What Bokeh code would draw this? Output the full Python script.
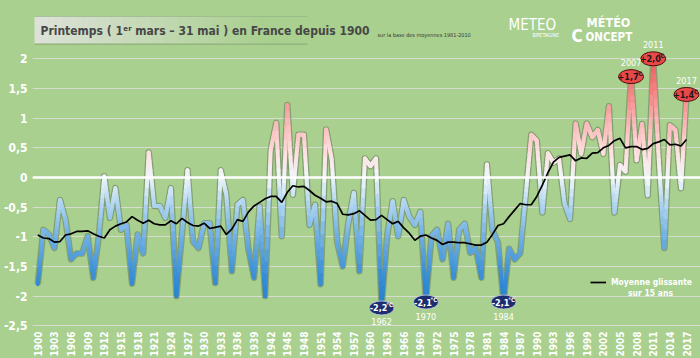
import numpy as np
from bokeh.plotting import figure
from bokeh.models import FixedTicker, Span, Label, BoxAnnotation, Legend, LegendItem, ColumnDataSource
from bokeh.embed import file_html
from bokeh.resources import INLINE
from bokeh.core.properties import value

# ---------------- data ----------------
years = list(range(1900, 2018))
anomaly = [
    -1.80, -0.88, -0.96, -1.19, -0.38, -0.71, -1.38, -1.28, -1.28, -0.99,
    -1.69, -1.00, 0.02, -0.68, -0.18, -0.88, -0.80, -1.79, -0.96, -1.28,
    0.42, -0.48, -0.48, -0.68, -0.18, -2.00, -0.95, 0.12, -1.08, -1.19,
    -0.77, -0.77, -1.78, 0.12, -0.29, -1.58, -0.46, -0.38, -1.22, -1.69,
    -0.49, -2.00, 0.46, 0.92, -0.99, 1.22, -0.29, 0.72, 0.72, -0.80,
    -0.46, -1.80, 0.81, 0.31, -1.09, -1.50, -0.77, -0.26, -1.58, 0.32,
    0.19, 0.32, -2.20, -0.99, -0.40, -0.99, -0.38, -0.66, -0.80, -0.58,
    -2.10, -0.99, -0.88, -1.38, -0.78, -1.69, -0.88, -0.78, -1.27, -1.19,
    -1.69, 0.22, -0.88, -1.10, -2.10, -1.20, -1.38, -1.28, -0.30, 0.72,
    0.62, -0.59, 0.41, 0.25, 0.32, -0.44, -0.70, 0.91, 0.40, 0.91,
    0.68, 0.80, 0.40, 1.20, -0.59, 0.21, 0.10, 1.70, 0.29, 0.90,
    -0.30, 2.00, 0.30, -1.19, 0.88, 0.80, -0.18, 1.40,
]
moving_avg = [
    -0.97, -1.02, -1.03, -1.09, -1.08, -0.97, -0.95, -0.91, -0.91, -0.90,
    -0.95, -0.99, -1.02, -0.88, -0.82, -0.78, -0.75, -0.66, -0.72, -0.77,
    -0.72, -0.78, -0.80, -0.80, -0.73, -0.78, -0.69, -0.76, -0.81, -0.82,
    -0.77, -0.86, -0.84, -0.82, -0.96, -0.87, -0.71, -0.74, -0.58, -0.48,
    -0.42, -0.36, -0.32, -0.32, -0.42, -0.25, -0.14, -0.16, -0.15, -0.22,
    -0.30, -0.35, -0.41, -0.40, -0.44, -0.62, -0.63, -0.61, -0.56, -0.64,
    -0.72, -0.71, -0.64, -0.71, -0.78, -0.74, -0.85, -0.94, -1.06, -0.99,
    -0.97, -1.02, -1.06, -1.13, -1.09, -1.09, -1.10, -1.10, -1.12, -1.14,
    -1.14, -1.09, -0.96, -0.81, -0.78, -0.66, -0.55, -0.44, -0.46, -0.46,
    -0.32, -0.13, 0.08, 0.26, 0.34, 0.36, 0.38, 0.28, 0.33, 0.32,
    0.41, 0.42, 0.50, 0.54, 0.62, 0.66, 0.50, 0.52, 0.52, 0.47,
    0.49, 0.57, 0.60, 0.64, 0.55, 0.56, 0.53, 0.64,
]
assert len(anomaly) == len(years) == len(moving_avg)

x_tick_years = [1900, 1903, 1906, 1909, 1912, 1915, 1918, 1921, 1924, 1927,
                1930, 1933, 1936, 1939, 1942, 1945, 1948, 1951, 1954, 1957,
                1960, 1963, 1966, 1969, 1972, 1975, 1978, 1981, 1984, 1987,
                1990, 1993, 1996, 1999, 2002, 2005, 2008, 2011, 2014, 2017]
y_tick_values = [-2.5, -2.0, -1.5, -1.0, -0.5, 0.0, 0.5, 1.0, 1.5, 2.0]
y_tick_labels = ["-2,5", "-2", "-1,5", "-1", "-0,5", "0", "0,5", "1", "1,5", "2"]

warm_years = [2007, 2011, 2017]
warm_texts = ["+1,7", "+2,0", "+1,4"]
cold_years = [1962, 1970, 1984]
cold_texts = ["-2,2", "-2,1", "-2,1"]

title_text = "Printemps ( 1\u1d49\u02b3 mars \u2013 31 mai ) en France depuis 1900"
subtitle_text = "sur la base des moyennes 1981-2010"
legend_line1 = "Moyenne glissante"
legend_line2 = "sur 15 ans"

# ---------------- layout (page = figure coordinates, body margin removed) ----------------
BORDER_L = 30
FRAME_W, FRAME_H = 670, 327
X_START, X_END = 1899.044, 2019.884
Y_START, Y_END = -2.529, 2.983
BG = "#a9d08e"
FONT = "DejaVu Sans Condensed"

PX_X = (X_END - X_START) / FRAME_W   # data units per pixel
PX_Y = (Y_END - Y_START) / FRAME_H


def rx(ref_x):
    return X_START + (ref_x - BORDER_L) * PX_X


def ry(ref_y):
    return Y_END - ref_y * PX_Y


p = figure(frame_width=FRAME_W, frame_height=FRAME_H, output_backend="svg", toolbar_location=None,
           x_range=(X_START, X_END), y_range=(Y_START, Y_END),
           background_fill_color=BG, border_fill_color=BG, outline_line_color=None,
           min_border_left=BORDER_L, min_border_right=0, min_border_top=0,
           min_border_bottom=0)

# axes
p.yaxis.ticker = FixedTicker(ticks=y_tick_values)
p.yaxis.major_label_overrides = {float(v): s for v, s in zip(y_tick_values, y_tick_labels)}
p.xaxis.ticker = FixedTicker(ticks=x_tick_years)
p.xaxis.major_label_orientation = np.pi / 2
for ax in (p.xaxis, p.yaxis):
    ax.axis_line_color = None
    ax.major_tick_line_color = None
    ax.minor_tick_line_color = None
    ax.major_tick_out = 0
    ax.major_tick_in = 0
    ax.minor_tick_out = 0
    ax.minor_tick_in = 0
    ax.major_label_text_color = "white"
    ax.major_label_text_font = FONT
    ax.major_label_text_font_style = "bold"
p.yaxis.major_label_text_font_size = "12px"
p.yaxis.major_label_standoff = 5
p.xaxis.major_label_text_font_size = "10px"
p.xaxis.major_label_standoff = 4

p.xgrid.visible = False
p.ygrid.ticker = FixedTicker(ticks=y_tick_values)
p.ygrid.grid_line_color = "#d6dccf"
p.ygrid.grid_line_width = 1

p.add_layout(Span(location=0, dimension="width", line_color="white", line_width=2.5))

# ---------------- main line with vertical colour gradient ----------------
stops_v = [-2.3, -1.6, -1.0, -0.5, 0.0, 0.4, 0.9, 1.4, 2.1]
stops_c = [(28, 122, 205), (60, 145, 215), (112, 176, 228), (170, 210, 240),
           (240, 246, 250), (255, 225, 225), (250, 185, 185), (245, 135, 135),
           (238, 82, 82)]


def cmap(v):
    r = np.interp(v, stops_v, [c[0] for c in stops_c])
    g = np.interp(v, stops_v, [c[1] for c in stops_c])
    b = np.interp(v, stops_v, [c[2] for c in stops_c])
    return "#%02x%02x%02x" % (int(r), int(g), int(b))


xs = np.array(years, dtype=float)
ys = np.array(anomaly, dtype=float)
n_sub = 12
t0 = np.linspace(0, 1, n_sub + 1)[:-1]
t1 = np.linspace(0, 1, n_sub + 1)[1:]
dx = (xs[1:] - xs[:-1])[:, None]
dy = (ys[1:] - ys[:-1])[:, None]
sx0 = (xs[:-1, None] + dx * t0).ravel()
sx1 = (xs[:-1, None] + dx * t1).ravel()
sy0 = (ys[:-1, None] + dy * t0).ravel()
sy1 = (ys[:-1, None] + dy * t1).ravel()
seg_colors = [cmap(v) for v in (sy0 + sy1) / 2]

p.line(years, anomaly, line_color="#55654f", line_alpha=0.45, line_width=6.5, line_join="round")
p.segment(x0=sx0, y0=sy0, x1=sx1, y1=sy1, line_color=seg_colors, line_width=4, line_cap="round")

ma_r = p.line(years, moving_avg, line_color="black", line_width=1.7)

# ---------------- bubbles ----------------
warm_vals = [anomaly[y - years[0]] for y in warm_years]
cold_vals = [anomaly[y - years[0]] for y in cold_years]
bw, bh = 25 * PX_X, 14 * PX_Y

warm_src = ColumnDataSource(dict(
    x=warm_years, y=warm_vals, t=warm_texts, yr=[str(y) for y in warm_years],
    xt=[y - 3 * PX_X for y in warm_years], xc=[y + 8 * PX_X for y in warm_years],
    yc=[v + 3 * PX_Y for v in warm_vals], yy=[v + 14 * PX_Y for v in warm_vals]))
cold_src = ColumnDataSource(dict(
    x=cold_years, y=cold_vals, t=cold_texts, yr=[str(y) for y in cold_years],
    xt=[y - 3 * PX_X for y in cold_years], xc=[y + 8 * PX_X for y in cold_years],
    yc=[v + 3 * PX_Y for v in cold_vals], yy=[v - 14 * PX_Y for v in cold_vals]))

p.ellipse(x="x", y="y", width=bw, height=bh, source=warm_src,
          fill_color="#e94848", line_color="#4a1010", line_width=1)
p.ellipse(x="x", y="y", width=bw, height=bh, source=cold_src,
          fill_color="#1d2d6d", line_color="#c8d0f0", line_width=0.8)

for src, tc in ((warm_src, "#1a1a1a"), (cold_src, "white")):
    p.text(x="xt", y="y", text="t", source=src, text_color=tc, text_font=value(FONT),
           text_font_style="bold", text_font_size="9px", text_align="center",
           text_baseline="middle")
    p.text(x="xc", y="yc", text=value("\u00b0C"), source=src, text_color=tc,
           text_font=value(FONT), text_font_style="bold", text_font_size="6px",
           text_align="center", text_baseline="middle")
    p.text(x="x", y="yy", text="yr", source=src, text_color="white",
           text_font=value(FONT), text_font_size="9px", text_align="center",
           text_baseline="middle")

# ---------------- title box ----------------
n_grad = 40
gx0, gx1 = 32, 305
left_c = np.array([222, 226, 218])
bg_c = np.array([169, 208, 142])
for i in range(n_grad):
    f = min(1.0, (i + 0.5) / n_grad / 0.85)
    c = left_c + (bg_c - left_c) * f
    xa = gx0 + (gx1 - gx0) * i / n_grad
    xb = gx0 + (gx1 - gx0) * (i + 1) / n_grad + 0.5
    p.add_layout(BoxAnnotation(left=rx(xa), right=rx(xb), top=ry(16), bottom=ry(43),
                               fill_color="#%02x%02x%02x" % tuple(int(v) for v in c),
                               fill_alpha=1, line_color=None, level="underlay"))
p.add_layout(BoxAnnotation(left=rx(32), right=rx(305), top=ry(15.5), bottom=ry(16.5),
                           fill_color="#8fa885", fill_alpha=0.5, line_color=None, level="underlay"))
p.add_layout(BoxAnnotation(left=rx(32), right=rx(305), top=ry(43), bottom=ry(44.5),
                           fill_color="#7f9a70", fill_alpha=0.5, line_color=None, level="underlay"))

p.add_layout(Label(x=rx(38), y=ry(30), text=title_text, text_font=FONT, text_font_style="bold",
                   text_font_size="12px", text_color="#474747", text_baseline="middle"))
p.add_layout(Label(x=rx(375), y=ry(34), text=subtitle_text, text_font=FONT,
                   text_font_size="5.5px", text_color="#3a3a3a", text_baseline="middle"))

# ---------------- logos (as text) ----------------
p.add_layout(Label(x=rx(506), y=ry(24), text="METEO", text_font=FONT, text_font_size="15px",
                   text_color="white", text_baseline="middle"))
p.add_layout(Label(x=rx(530), y=ry(34), text="BRETAGNE", text_font=FONT, text_font_size="5.5px",
                   text_color="white", text_baseline="middle"))
p.add_layout(Label(x=rx(606), y=ry(22), text="M\u00c9T\u00c9O", text_font=FONT,
                   text_font_style="bold", text_font_size="12.5px", text_color="white",
                   text_baseline="middle", text_align="center"))
p.add_layout(Label(x=rx(569), y=ry(35), text="C", text_font=FONT,
                   text_font_style="bold", text_font_size="17px", text_color="white",
                   text_baseline="middle"))
p.add_layout(Label(x=rx(583), y=ry(36), text="ONCEPT", text_font=FONT,
                   text_font_style="bold", text_font_size="11.5px", text_color="white",
                   text_baseline="middle"))

# ---------------- legend ----------------
# glyph left at page x 588, glyph centre at page y 282 (frame bottom at 327)
legend = Legend(items=[LegendItem(label=legend_line1, renderers=[ma_r])],
                location=(588 - BORDER_L, FRAME_H - 282 - 6), glyph_width=16, glyph_height=10,
                label_standoff=5, label_height=12, padding=0, margin=0, spacing=0,
                background_fill_alpha=0, border_line_alpha=0,
                label_text_color="white", label_text_font=FONT,
                label_text_font_style="bold", label_text_font_size="8.5px")
p.add_layout(legend)
p.add_layout(Label(x=rx(648), y=ry(292), text=legend_line2, text_font=FONT,
                   text_font_style="bold", text_font_size="8.5px", text_color="white",
                   text_baseline="middle", text_align="center"))

style = "<style>html,body{margin:0;padding:0;overflow:hidden;background:%s;}</style>" % BG
open("out.html", "w").write(file_html(p, INLINE).replace("<head>", "<head>" + style, 1))
